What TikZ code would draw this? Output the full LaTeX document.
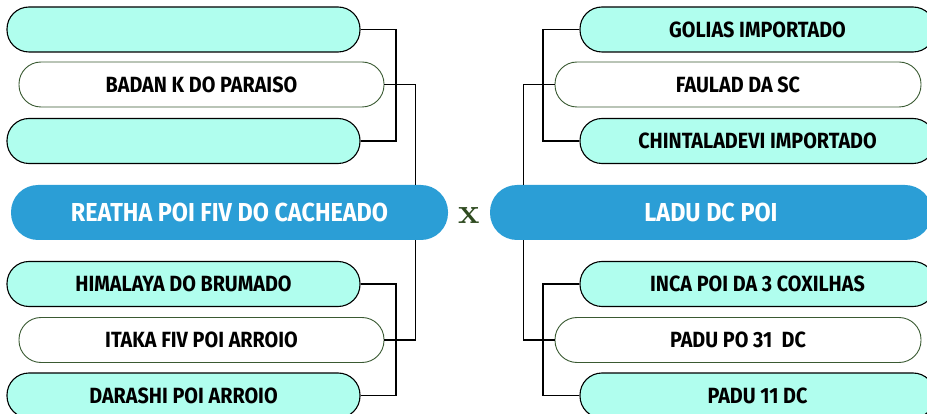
\documentclass[tikz,border=0pt]{standalone}
\usepackage{fontspec}
\newfontfamily\cond{Fira Sans}[FakeStretch=0.9]
\definecolor{cyanfill}{HTML}{B0FEEE}
\definecolor{bluefill}{HTML}{2B9ED6}
\definecolor{greenline}{HTML}{3A5A32}
\definecolor{xgreen}{HTML}{2E4A1F}
\begin{document}
\begin{tikzpicture}[x=1pt,y=-1pt,
  pill/.style={rounded corners=22pt, minimum height=45pt, inner sep=0pt,
    font=\cond\bfseries\fontsize{22}{24}\selectfont, text=black},
  cy/.style={pill, fill=cyanfill, draw=black, line width=1.1pt},
  wh/.style={pill, fill=white, draw=greenline, line width=0.9pt},
  big/.style={fill=bluefill, rounded corners=27pt, minimum height=55pt, inner sep=0pt,
    text=white, font=\cond\bfseries\fontsize{26}{30}\selectfont},
  link/.style={draw=black, line width=1.4pt}]
\useasboundingbox (0,0) rectangle (927,414);
\clip (0,0) rectangle (927,414);
% left
\node[cy, minimum width=353pt] (l1) at (183.5,29.5) {};
\node[wh, minimum width=365pt] (l2) at (201.5,84.5) {BADAN K DO PARAISO};
\node[cy, minimum width=353pt] (l3) at (183.5,141) {};
\node[big, minimum width=437pt] (ml) at (229.5,212.5) {REATHA POI FIV DO CACHEADO};
\node[cy, minimum width=353pt] (l4) at (183.5,284) {HIMALAYA DO BRUMADO};
\node[wh, minimum width=365pt] (l5) at (201.5,340) {ITAKA FIV POI ARROIO};
\node[cy, minimum width=353pt] (l6) at (183.5,395.5) {DARASHI POI ARROIO};
% right
\node[cy, minimum width=355pt] (r1) at (757.5,29.5) {GOLIAS IMPORTADO};
\node[wh, minimum width=366pt] (r2) at (738,84.5) {FAULAD DA SC};
\node[cy, minimum width=355pt] (r3) at (757.5,141) {CHINTALADEVI IMPORTADO};
\node[big, minimum width=442pt] (mr) at (711,212.5) {LADU DC POI};
\node[cy, minimum width=355pt] (r4) at (757.5,284) {INCA POI DA 3 COXILHAS};
\node[wh, minimum width=366pt] (r5) at (738,340) {PADU PO 31~ DC};
\node[cy, minimum width=355pt] (r6) at (757.5,395.5) {PADU 11 DC};
% vs
\node[text=xgreen, font=\bfseries\fontsize{36}{36}\selectfont, inner sep=0pt] (vs) at (469.5,215.5) {x};
% connectors
\coordinate (lx1) at (396,0);
\coordinate (lx2) at (415.5,0);
\coordinate (rx1) at (543,0);
\coordinate (rx2) at (523.5,0);
\draw[link] (l1.east) -| (l3.east -| lx1) -- (l3.east);
\draw[link] (l2.east) -| (ml.north -| lx2);
\draw[link] (l4.east) -| (l6.east -| lx1) -- (l6.east);
\draw[link] (l5.east) -| (ml.south -| lx2);
\draw[link] (r1.west) -| (r3.west -| rx1) -- (r3.west);
\draw[link] (r2.west) -| (mr.north -| rx2);
\draw[link] (r4.west) -| (r6.west -| rx1) -- (r6.west);
\draw[link] (r5.west) -| (mr.south -| rx2);
\end{tikzpicture}
\end{document}
